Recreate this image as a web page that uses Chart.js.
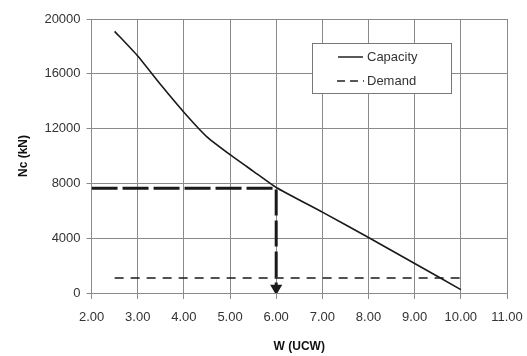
<!DOCTYPE html>
<html>
<head>
<meta charset="utf-8">
<script src="https://cdn.jsdelivr.net/npm/chart.js@4/dist/chart.umd.min.js"></script>
<style>
  html, body { margin: 0; padding: 0; background: #fff; }
  #wrap { width: 527px; height: 356px; }
</style>
</head>
<body>
<div id="wrap"><canvas id="chart" width="527" height="356"></canvas></div>
<script>
// --- data ---
const capacityW = [2.5, 3.0, 3.5, 4.0, 4.5, 5.0, 5.5, 6.0, 7.0, 8.0, 9.0, 10.0];
const capacityNc = [19100, 17300, 15200, 13200, 11400, 10100, 8900, 7700, 5900, 4050, 2150, 250];
const demandW = [2.5, 10.0];
const demandNc = [1100, 1100];
// design point lookup: from the axis across to the curve, then down to W
const lookupW = [2.0, 6.0, 6.0];
const lookupNc = [7650, 7650, 350];
const xTicks = [2, 3, 4, 5, 6, 7, 8, 9, 10, 11];
const yTicks = [0, 4000, 8000, 12000, 16000, 20000];

const toPoints = (xs, ys) => xs.map((x, i) => ({ x, y: ys[i] }));

const tickFont = { family: "Liberation Sans, Arial, sans-serif", size: 13 };
const titleFont = { family: "Liberation Sans, Arial, sans-serif", size: 12, weight: "bold" };

// legend box drawn inside the plot, like the original
const boxLegend = {
  id: "boxLegend",
  afterDraw(chart) {
    const ctx = chart.ctx;
    const x = 312, y = 43, w = 139, h = 50;
    ctx.save();
    ctx.fillStyle = "#fff";
    ctx.fillRect(x, y, w, h);
    ctx.strokeStyle = "#777";
    ctx.lineWidth = 1;
    ctx.strokeRect(x + 0.5, y + 0.5, w, h);

    ctx.strokeStyle = "#222";
    ctx.lineWidth = 1.5;
    ctx.beginPath();
    ctx.moveTo(338, 57);
    ctx.lineTo(363, 57);
    ctx.stroke();

    ctx.setLineDash([8, 5]);
    ctx.beginPath();
    ctx.moveTo(337, 81);
    ctx.lineTo(364, 81);
    ctx.stroke();
    ctx.setLineDash([]);

    ctx.fillStyle = "#333";
    ctx.font = "13px Liberation Sans, Arial, sans-serif";
    ctx.textBaseline = "middle";
    ctx.fillText("Capacity", 367, 57);
    ctx.fillText("Demand", 367, 81);
    ctx.restore();
  },
};

new Chart(document.getElementById("chart"), {
  type: "scatter",
  data: {
    datasets: [
      {
        label: "Capacity",
        data: toPoints(capacityW, capacityNc),
        showLine: true,
        borderColor: "#1a1a1a",
        borderWidth: 1.6,
        pointRadius: 0,
        tension: 0.15,
      },
      {
        label: "Demand",
        data: toPoints(demandW, demandNc),
        showLine: true,
        borderColor: "#1a1a1a",
        borderWidth: 1.6,
        borderDash: [9, 7],
        pointRadius: 0,
      },
      {
        label: "lookup",
        data: toPoints(lookupW, lookupNc),
        showLine: true,
        borderColor: "#1a1a1a",
        borderWidth: 3,
        borderDash: [26, 5],
        pointRadius: [0, 0, 4],
        pointStyle: "triangle",
        rotation: 180,
        pointBackgroundColor: "#1a1a1a",
        pointBorderColor: "#1a1a1a",
      },
    ],
  },
  options: {
    responsive: false,
    animation: false,
    layout: { padding: { left: 16, right: 20, top: 19, bottom: 2 } },
    plugins: { legend: { display: false }, tooltip: { enabled: false } },
    scales: {
      x: {
        type: "linear",
        min: 2,
        max: 11,
        afterBuildTicks: (axis) => { axis.ticks = xTicks.map((v) => ({ value: v })); },
        afterFit: (axis) => { axis.paddingRight = 10; },
        ticks: { color: "#333", font: tickFont, maxRotation: 0, padding: 11, callback: (v) => Number(v).toFixed(2) },
        grid: { color: "#8a8a8a", lineWidth: 1, tickLength: 6, tickColor: "#8a8a8a" },
        border: { color: "#8a8a8a" },
        title: { display: true, text: "W (UCW)", color: "#111", font: titleFont, padding: { top: 3, bottom: 0 } },
      },
      y: {
        type: "linear",
        min: 0,
        max: 20000,
        afterBuildTicks: (axis) => { axis.ticks = yTicks.map((v) => ({ value: v })); },
        ticks: { color: "#333", font: tickFont, padding: 6, callback: (v) => String(v) },
        grid: { color: "#8a8a8a", lineWidth: 1, tickLength: 5, tickColor: "#8a8a8a" },
        border: { color: "#8a8a8a" },
        title: { display: true, text: "Nc (kN)", color: "#111", font: titleFont, padding: { top: 0, bottom: 8 } },
      },
    },
  },
  plugins: [boxLegend],
});
</script>
</body>
</html>
